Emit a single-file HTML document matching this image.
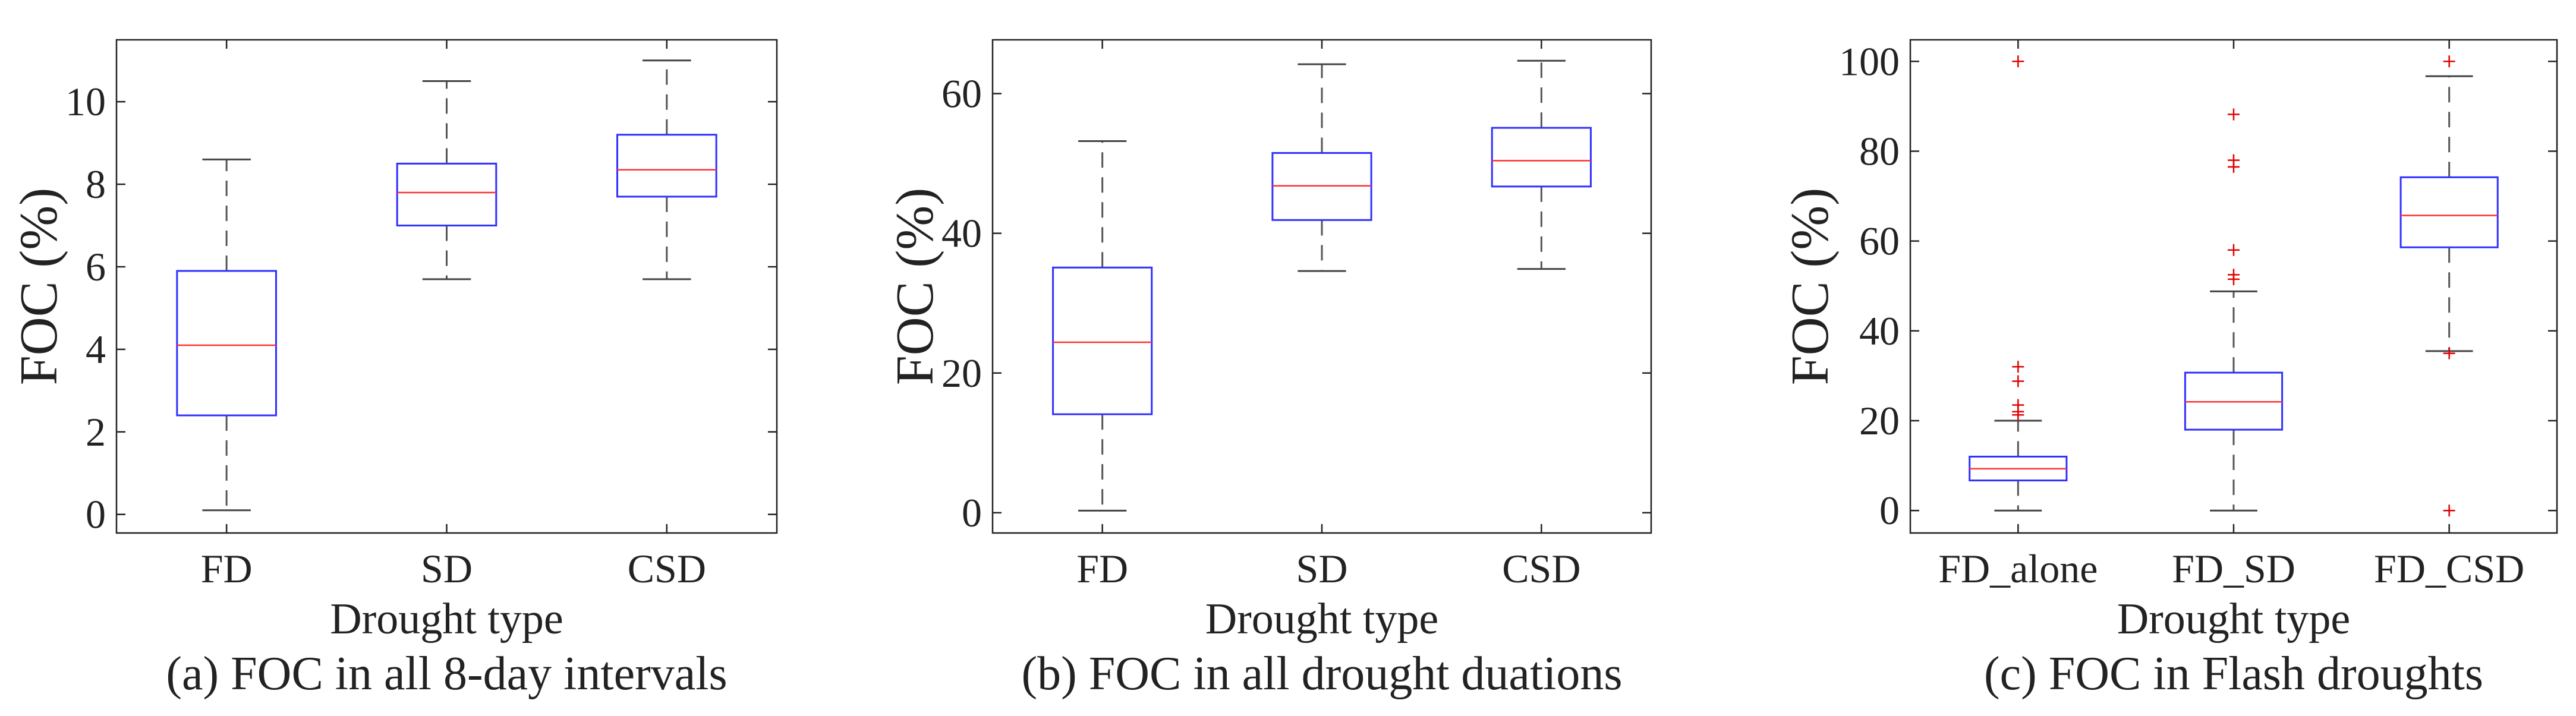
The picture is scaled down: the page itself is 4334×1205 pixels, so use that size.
<!DOCTYPE html>
<html><head><meta charset="utf-8"><style>
html,body{margin:0;padding:0;background:#fff;}
svg{display:block;}
text{font-family:"Liberation Serif",serif;fill:#222;}
</style></head>
<body>
<svg id="chart" width="4334" height="1205" viewBox="0 0 4334 1205" xmlns="http://www.w3.org/2000/svg"></svg>
<script>
// Panel (a) data
const catsA = ["FD","SD","CSD"];
const loA = [0.1, 5.7, 5.7];
const q1A = [2.4, 7.0, 7.7];
const medA = [4.1, 7.8, 8.35];
const q3A = [5.9, 8.5, 9.2];
const hiA = [8.6, 10.5, 11.0];
const outA = [[],[],[]];
const ticksA = [0,2,4,6,8,10];
// Panel (b) data
const catsB = ["FD","SD","CSD"];
const loB = [0.3, 34.6, 34.9];
const q1B = [14.1, 41.9, 46.7];
const medB = [24.4, 46.8, 50.4];
const q3B = [35.1, 51.5, 55.1];
const hiB = [53.2, 64.2, 64.7];
const outB = [[],[],[]];
const ticksB = [0,20,40,60];
// Panel (c) data
const catsC = ["FD_alone","FD_SD","FD_CSD"];
const loC = [0, 0, 35.5];
const q1C = [6.7, 18.0, 58.6];
const medC = [9.3, 24.2, 65.7];
const q3C = [12.0, 30.7, 74.2];
const hiC = [20.0, 48.8, 96.7];
const outC = [[100, 32, 28.8, 23.5, 22, 21.3],[88.2, 78, 76.5, 58, 52.5, 51.5],[100, 35, 0]];
const ticksC = [0,20,40,60,80,100];

const NS = "http://www.w3.org/2000/svg";
const svg = document.getElementById('chart');
function mk(tag, attrs, parent){
  const e = document.createElementNS(NS, tag);
  for (const k in attrs) e.setAttribute(k, attrs[k]);
  (parent||svg).appendChild(e);
  return e;
}
function panel(id, L, R, T, B, ymin, ymax, cats, lo, q1, med, q3, hi, outs, ticks, caption, ylabX){
  const g = mk('g', {});
  
  
  const y = v => B - (v - ymin) / (ymax - ymin) * (B - T);
  const x = i => L + (i + 1 - 0.5) / 3 * (R - L);
  const unit = (R - L) / 3;
  const fr = mk('rect', {x:L, y:T, width:R-L, height:B-T, fill:'none', stroke:'#222', 'stroke-width':2.5}, g);
  
  
  ticks.forEach(t => {
    const yy = y(t);
    mk('line', {x1:L, x2:L+15, y1:yy, y2:yy, stroke:'#222', 'stroke-width':2.5}, g);
    mk('line', {x1:R, x2:R-15, y1:yy, y2:yy, stroke:'#222', 'stroke-width':2.5}, g);
    const tl = mk('text', {x:L-18, y:yy+23, 'font-size':68, 'text-anchor':'end'}, g);
    tl.textContent = t;
    
    
  });
  cats.forEach((c, i) => {
    const xx = x(i);
    mk('line', {x1:xx, x2:xx, y1:B, y2:B-15, stroke:'#222', 'stroke-width':2.5}, g);
    mk('line', {x1:xx, x2:xx, y1:T, y2:T+15, stroke:'#222', 'stroke-width':2.5}, g);
    const xl = mk('text', {x:xx, y:980, 'font-size':68, 'text-anchor':'middle'}, g);
    xl.textContent = c;
    
    
  });
  cats.forEach((c, i) => {
    const xx = x(i), hw = 0.225 * unit, cw = 0.11 * unit;
    const bg = mk('g', {}, g);
    
    
    mk('line', {x1:xx, x2:xx, y1:y(q3[i]), y2:y(hi[i]), stroke:'#555', 'stroke-width':3, 'stroke-dasharray':'26 16'}, bg);
    mk('line', {x1:xx, x2:xx, y1:y(q1[i]), y2:y(lo[i]), stroke:'#555', 'stroke-width':3, 'stroke-dasharray':'26 16'}, bg);
    mk('line', {x1:xx-cw, x2:xx+cw, y1:y(hi[i]), y2:y(hi[i]), stroke:'#444', 'stroke-width':3}, bg);
    mk('line', {x1:xx-cw, x2:xx+cw, y1:y(lo[i]), y2:y(lo[i]), stroke:'#444', 'stroke-width':3}, bg);
    mk('rect', {x:xx-hw, y:y(q3[i]), width:2*hw, height:y(q1[i])-y(q3[i]), fill:'none', stroke:'#3030ff', 'stroke-width':3}, bg);
    mk('line', {x1:xx-hw, x2:xx+hw, y1:y(med[i]), y2:y(med[i]), stroke:'#ff3030', 'stroke-width':2.5}, bg);
    outs[i].forEach(o => {
      const p = mk('path', {d:`M${xx-10},${y(o)}h20M${xx},${y(o)-10}v20`, stroke:'#e00000', 'stroke-width':2.5, fill:'none'}, bg);
      
      
    });
  });
  const yl = mk('text', {x:ylabX, y:(T+B)/2, 'font-size':90, 'text-anchor':'middle', transform:`rotate(-90 ${ylabX} ${(T+B)/2})`, dy:30}, g);
  yl.textContent = 'FOC (%)';
  
  
  const xt = mk('text', {x:(L+R)/2, y:1066, 'font-size':74, 'text-anchor':'middle'}, g);
  xt.textContent = 'Drought type';
  
  
  const cp = mk('text', {x:(L+R)/2, y:1160, 'font-size':80, 'text-anchor':'middle'}, g);
  cp.textContent = caption;
  
  
}
panel('a', 196, 1307, 67, 897, -0.45, 11.5, catsA, loA, q1A, medA, q3A, hiA, outA, ticksA, '(a) FOC in all 8-day intervals', 65);
panel('b', 1670, 2778, 67, 897, -2.9, 67.7, catsB, loB, q1B, medB, q3B, hiB, outB, ticksB, '(b) FOC in all drought duations', 1539);
panel('c', 3214, 4302, 67, 897, -5.0, 104.8, catsC, loC, q1C, medC, q3C, hiC, outC, ticksC, '(c) FOC in Flash droughts', 3045);
</script>
</body></html>
